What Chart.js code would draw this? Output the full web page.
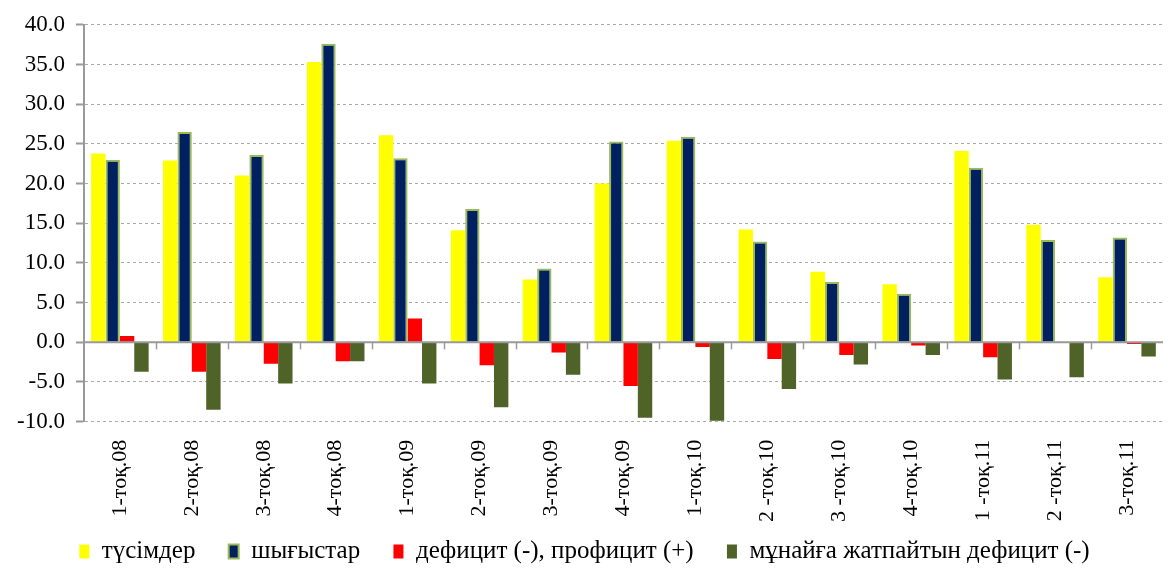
<!DOCTYPE html>
<html>
<head>
<meta charset="utf-8">
<script src="https://cdn.jsdelivr.net/npm/chart.js@4"></script>
<style>
html,body{margin:0;padding:0;background:#fff;}
#wrap{width:1171px;height:568px;}
</style>
</head>
<body>
<div id="wrap"><canvas id="chartBudzhet"></canvas></div>
<script>
var kvartaly = ["1-тоқ.08","2-тоқ.08","3-тоқ.08","4-тоқ.08","1-тоқ.09","2-тоқ.09","3-тоқ.09","4-тоқ.09",
	"1-тоқ.10","2 -тоқ.10","3 -тоқ.10","4-тоқ.10","1 -тоқ.11","2 -тоқ.11","3-тоқ.11"];
var tusimder = [23.8,22.9,21.0,35.3,26.1,14.1,7.9,20.0,25.4,14.2,8.9,7.3,24.1,14.8,8.2];
var shygystar = [23.0,26.5,23.6,37.6,23.2,16.8,9.3,25.3,25.9,12.7,7.6,6.1,22.0,12.9,13.2];
var defitsit = [0.8,-3.7,-2.7,-2.4,3.0,-2.9,-1.3,-5.5,-0.6,-2.1,-1.6,-0.4,-1.9,-0.1,-0.2];
var munaisyz = [-3.7,-8.5,-5.2,-2.4,-5.2,-8.2,-4.1,-9.5,-9.9,-5.9,-2.8,-1.6,-4.7,-4.4,-1.8];

Chart.defaults.font.family = "'Liberation Serif'";
Chart.defaults.color = '#000';

// nol' syzygy i shtrikhi na nem
var nolSyzyk = {
	id:'nolSyzyk',
	afterDatasetsDraw:function(chart){
		var ctx=chart.ctx, x=chart.scales.x, y=chart.scales.y;
		var y0=y.getPixelForValue(0);
		ctx.save();
		ctx.strokeStyle='#999';
		ctx.lineWidth=2;
		ctx.beginPath();
		ctx.moveTo(chart.chartArea.left,y0);
		ctx.lineTo(chart.chartArea.right,y0);
		ctx.stroke();
		ctx.lineWidth=1.5;
		var step=(chart.chartArea.right-chart.chartArea.left)/kvartaly.length;
		for(var i=1;i<kvartaly.length;i++){
			var px=Math.round(x.getPixelForValue(i)-step/2)+0.5;
			ctx.beginPath();
			ctx.moveTo(px,y0);
			ctx.lineTo(px,y0+7);
			ctx.stroke();
		}
		ctx.restore();
	}
};

new Chart(document.getElementById("chartBudzhet"), {
	type:'bar',
	data:{
		labels:kvartaly,
		datasets:[
			{label:"түсімдер",data:tusimder,backgroundColor:'#ffff00',borderColor:'#ffff00',borderWidth:0},
			{label:"шығыстар",data:shygystar,backgroundColor:'#002060',borderColor:'#9bbb59',borderWidth:2},
			{label:"дефицит (-), профицит (+)",data:defitsit,backgroundColor:'#ff0000',borderColor:'#ff0000',borderWidth:0},
			{label:"мұнайға жатпайтын дефицит (-)",data:munaisyz,backgroundColor:'#4f6228',borderColor:'#4f6228',borderWidth:0}
		]
	},
	options:{
		responsive:true,
		maintainAspectRatio:false,
		animation:false,
		layout:{padding:{left:6,right:8,top:13,bottom:-6}},
		datasets:{bar:{categoryPercentage:0.8,barPercentage:1.0}},
		plugins:{
			legend:{
				position:'bottom',
				labels:{
					boxWidth:10,boxHeight:14,padding:2,
					font:{size:25},
					generateLabels:function(chart){
						var items=Chart.defaults.plugins.legend.labels.generateLabels(chart);
						items.forEach(function(it,i){ if(i<items.length-1) it.text=it.text+'\u00a0\u00a0\u00a0\u00a0\u00a0'; });
						return items;
					}
				}
			},
			title:{display:false},
			tooltip:{enabled:false}
		},
		scales:{
			x:{
				grid:{display:false},
				border:{display:false},
				afterFit:function(s){ s.height+=5; },
				ticks:{
					minRotation:90,maxRotation:90,autoSkip:false,padding:10,
					font:{size:22}
				}
			},
			y:{
				min:-10,max:40,
				grid:{color:'#aaa',lineWidth:1,tickColor:'#999',tickLength:8,tickWidth:2,tickBorderDash:[]},
				border:{display:true,color:'#999',width:2,dash:[3,3]},
				ticks:{
					stepSize:5,padding:11,
					font:{size:23},
					callback:function(v){return v.toFixed(1);}
				}
			}
		}
	},
	plugins:[nolSyzyk]
});
</script>
</body>
</html>
